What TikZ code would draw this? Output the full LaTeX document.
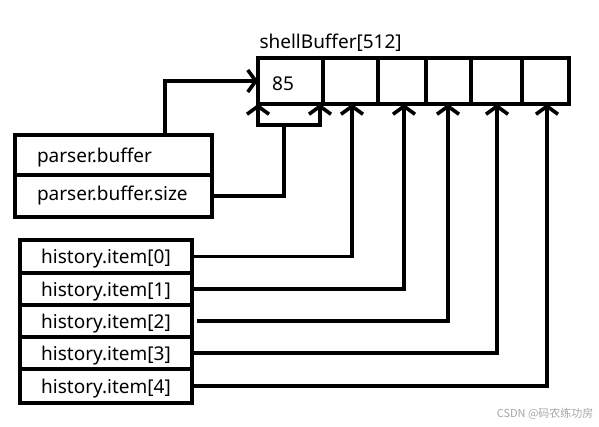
\documentclass[tikz,border=0pt]{standalone}
\usepackage{fontspec}
\setmainfont{Noto Sans}
\newfontfamily\cjk{Noto Sans CJK SC}
\usetikzlibrary{arrows.meta}
\begin{document}
\begin{tikzpicture}[x=1pt,y=-1pt,
  every node/.style={font=\fontsize{19}{21}\selectfont},
  box/.style={draw, line width=3.6pt, inner sep=0pt, outer sep=0pt, anchor=north west},
  lbox/.style={box, inner xsep=22pt, text width=153pt, align=left},
  hbox/.style={box, minimum width=172pt, text height=17pt, text depth=2pt},
  conn/.style={line width=3.6pt},
  tip/.style={-{Straight Barb[length=8pt,width=22pt]}},
  tips/.style={{Straight Barb[length=8pt,width=22pt]}-{Straight Barb[length=8pt,width=22pt]}}
]
\useasboundingbox (0,0) rectangle (599,427);

% buffer cells
\node[box, minimum width=65pt, minimum height=46pt] (c0) at (258,58) {};
\node[box, minimum width=55pt, minimum height=46pt] (c1) at (323,58) {};
\node[box, minimum width=48pt, minimum height=46pt] (c2) at (378,58) {};
\node[box, minimum width=45pt, minimum height=46pt] (c3) at (426,58) {};
\node[box, minimum width=51pt, minimum height=46pt] (c4) at (471,58) {};
\node[box, minimum width=47pt, minimum height=46pt] (c5) at (522,58) {};
\node (v85) at (283,84) {85};
\node[anchor=west] (title) at (256,43) {shellBuffer[512]};

% parser box
\node[lbox, minimum height=40pt, text height=17pt, text depth=2pt] (pb) at (15,135) {parser.buffer};
\node[lbox, minimum height=42pt] (ps) at (15,175) {parser.buffer.size};

% history boxes
\node[hbox, minimum height=33pt] (h0) at (20,240) {history.item[0]};
\node[hbox, minimum height=32pt] (h1) at (20,273) {history.item[1]};
\node[hbox, minimum height=32pt] (h2) at (20,305) {history.item[2]};
\node[hbox, minimum height=32pt] (h3) at (20,337) {history.item[3]};
\node[hbox, minimum height=34pt] (h4) at (20,369) {history.item[4]};

% connectors
\draw[conn, tip] (165,0 |- pb.north) |- (c0.west);
\draw[conn] (ps.east) -| (284,125);
\coordinate (bl) at (258,125);
\coordinate (br) at (320,125);
\draw[conn, tips] (c0.south west) -- (bl) -- (br) -- (320,0 |- c0.south);
\draw[conn, tip] (h0.east) -| (352,0 |- c1.south);
\draw[conn, tip] (h1.east) -| (404,0 |- c2.south);
\draw[conn, tip] ([xshift=5pt]h2.east) -| (448,0 |- c3.south);
\draw[conn, tip] (h3.east) -| (497,0 |- c4.south);
\draw[conn, tip] (h4.east) -| (547,0 |- c5.south);

\node[anchor=east, font=\cjk\fontsize{11}{12}\selectfont, text=black!35] (wm) at (597,414) {CSDN @码农练功房};
\end{tikzpicture}
\end{document}
